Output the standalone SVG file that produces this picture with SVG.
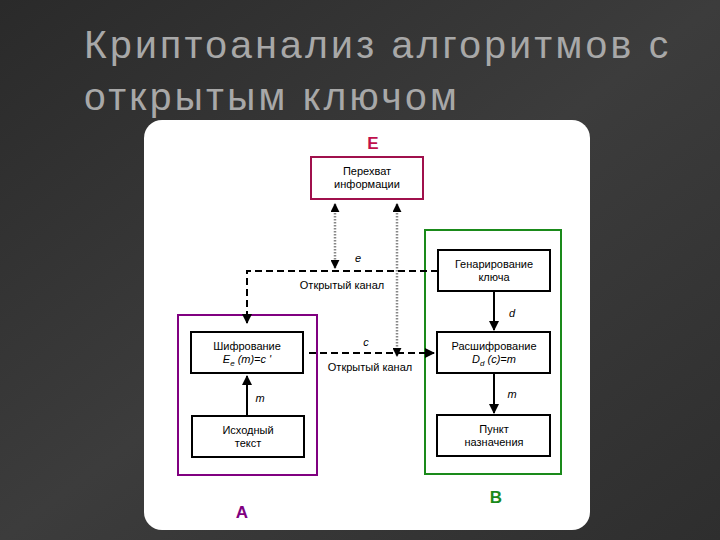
<svg xmlns="http://www.w3.org/2000/svg" width="720" height="540" viewBox="0 0 720 540">
<defs>
<linearGradient id="bg" x1="0" y1="0" x2="1" y2="1">
<stop offset="0" stop-color="#2a2a2a"/><stop offset="0.5" stop-color="#3c3c3c"/><stop offset="1" stop-color="#2e2e2e"/>
</linearGradient>
<marker id="ah" viewBox="0 0 10 10" refX="9" refY="5" markerWidth="9" markerHeight="9" orient="auto-start-reverse" markerUnits="userSpaceOnUse"><path d="M0,0L10,5L0,10z" fill="#000"/></marker>
<marker id="ahb" viewBox="0 0 10 10" refX="9" refY="5" markerWidth="10" markerHeight="10" orient="auto-start-reverse" markerUnits="userSpaceOnUse"><path d="M0,0L10,5L0,10z" fill="#000"/></marker>
</defs>
<style>
text{font-family:"Liberation Sans",Arial,sans-serif}
.t{font-size:11px;fill:#000;text-anchor:middle}
.i{font-style:italic}
.box{fill:#fff;stroke:#000;stroke-width:2}
.s{stroke:#000;stroke-width:2;fill:none}
.d{stroke:#000;stroke-width:2;fill:none;stroke-dasharray:7,4}
.dt{stroke:#888;stroke-width:2.5;fill:none;stroke-dasharray:1.5,1.5}
.ttl{font-size:39px;fill:#a8a8a8;letter-spacing:3.3px}
</style>
<rect width="720" height="540" fill="url(#bg)"/>
<text class="ttl" x="84" y="58">Криптоанализ алгоритмов с</text>
<text class="ttl" x="84" y="110">открытым ключом</text>
<rect x="144" y="120" width="446" height="410" rx="18" fill="#fff"/>
<g id="E"><text x="373" y="149" font-size="17" font-weight="bold" fill="#c0104c" text-anchor="middle">E</text>
<rect x="311" y="157" width="112" height="42" fill="#fff" stroke="#a0104c" stroke-width="2"/>
<text class="t" x="367" y="175">Перехват</text><text class="t" x="367" y="188">информации</text></g>
<g id="groupA"><rect x="178" y="315" width="139" height="160" fill="none" stroke="#800080" stroke-width="2"/>
<text x="242" y="518" font-size="17" font-weight="bold" fill="#800080" text-anchor="middle">A</text></g>
<g id="groupB"><rect x="425" y="230" width="136" height="244" fill="none" stroke="#1a8a1a" stroke-width="2"/>
<text x="496" y="503" font-size="17" font-weight="bold" fill="#1a8a1a" text-anchor="middle">B</text></g>
<g id="keygen"><rect class="box" x="438" y="250" width="112" height="41"/><text class="t" x="494" y="268">Генарирование</text><text class="t" x="494" y="281">ключа</text></g>
<g id="encrypt"><rect class="box" x="191" y="332" width="112" height="41"/><text class="t" x="247" y="350">Шифрование</text><text class="t i" x="247" y="363">E<tspan font-size="8" dy="3">e</tspan><tspan dy="-3"> (m)=c '</tspan></text></g>
<g id="source"><rect class="box" x="192" y="416" width="112" height="41"/><text class="t" x="248" y="434">Исходный</text><text class="t" x="248" y="447">текст</text></g>
<g id="decrypt"><rect class="box" x="437" y="332" width="113" height="41"/><text class="t" x="494" y="350">Расшифрование</text><text class="t i" x="494" y="363">D<tspan font-size="8" dy="3">d</tspan><tspan dy="-3"> (c)=m</tspan></text></g>
<g id="dest"><rect class="box" x="437" y="415" width="113" height="41"/><text class="t" x="494" y="433">Пункт</text><text class="t" x="494" y="446">назначения</text></g>
<g id="connectors">
<path class="dt" d="M335,204V268" marker-start="url(#ah)" marker-end="url(#ah)"/>
<path class="dt" d="M397,204V356" marker-start="url(#ah)" marker-end="url(#ah)"/>
<path class="d" d="M438,271H247V323" marker-end="url(#ahb)"/>
<path class="d" d="M309,353H434" marker-end="url(#ahb)"/>
<path class="s" d="M247,416V376" marker-end="url(#ahb)"/>
<path class="s" d="M494,291V330" marker-end="url(#ahb)"/>
<path class="s" d="M494,373V413" marker-end="url(#ahb)"/>
<text class="t i" x="358" y="262">e</text>
<rect x="290" y="278" width="104" height="13" fill="#fff"/>
<text class="t" x="342" y="289">Открытый канал</text>
<text class="t i" x="366" y="346">c</text>
<text class="t" x="370" y="371">Открытый канал</text>
<text class="t i" x="512" y="317">d</text>
<text class="t i" x="260" y="402">m</text>
<text class="t i" x="512" y="398">m</text>
</g>
</svg>
